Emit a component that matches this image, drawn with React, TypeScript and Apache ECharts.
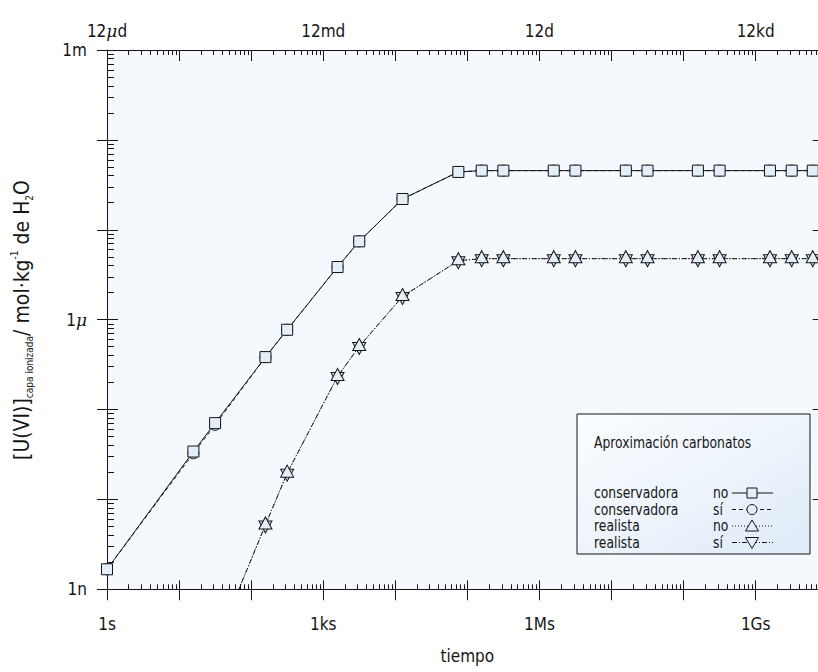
import React, { useEffect, useRef } from 'react';
import * as echarts from 'echarts';

const FONT = "'Liberation Sans Narrow', 'DejaVu Sans Condensed', 'Roboto Condensed', sans-serif";

// tiempo (s)
const timeConservadora = [1, 15.8, 31.6, 158, 316, 1580, 3160, 12600, 75000, 158000, 316000, 1.58e6, 3.16e6, 1.58e7, 3.16e7, 1.58e8, 3.16e8, 1.58e9, 3.16e9, 6.2e9];
const conservadoraNo = [1.67e-9, 3.41e-8, 7.06e-8, 3.83e-7, 7.72e-7, 3.85e-6, 7.43e-6, 2.2e-5, 4.4e-5, 4.55e-5, 4.55e-5, 4.55e-5, 4.55e-5, 4.55e-5, 4.55e-5, 4.55e-5, 4.55e-5, 4.55e-5, 4.55e-5, 4.55e-5];
const conservadoraSi = [1.67e-9, 3.26e-8, 6.75e-8, 3.83e-7, 7.72e-7, 3.85e-6, 7.43e-6, 2.2e-5, 4.4e-5, 4.55e-5, 4.55e-5, 4.55e-5, 4.55e-5, 4.55e-5, 4.55e-5, 4.55e-5, 4.55e-5, 4.55e-5, 4.55e-5, 4.55e-5];

const timeRealista = [31.6, 158, 316, 1580, 3160, 12600, 75000, 158000, 316000, 1.58e6, 3.16e6, 1.58e7, 3.16e7, 1.58e8, 3.16e8, 1.58e9, 3.16e9, 6.2e9];
const realistaNo = [2.3e-10, 5.2e-9, 1.96e-8, 2.33e-7, 5.03e-7, 1.81e-6, 4.53e-6, 4.77e-6, 4.77e-6, 4.77e-6, 4.77e-6, 4.77e-6, 4.77e-6, 4.77e-6, 4.77e-6, 4.77e-6, 4.77e-6, 4.77e-6];
const realistaSi = [2.3e-10, 5.2e-9, 1.96e-8, 2.33e-7, 5.03e-7, 1.81e-6, 4.53e-6, 4.77e-6, 4.77e-6, 4.77e-6, 4.77e-6, 4.77e-6, 4.77e-6, 4.77e-6, 4.77e-6, 4.77e-6, 4.77e-6, 4.77e-6];

const xTickLabels = ['1s', '1ks', '1Ms', '1Gs'];
const xTopTickLabels = ['12μd', '12md', '12d', '12kd'];
const yTickLabels = ['1n', '1μ', '1m'];
const xName = 'tiempo';
const legendTitle = 'Aproximación carbonatos';
const legendNames = ['conservadora', 'conservadora', 'realista', 'realista'];
const legendFlags = ['no', 'sí', 'no', 'sí'];

const X_MIN = 1;
const X_MAX = 9.99e9;
const Y_MIN = 1e-9;
const Y_MAX = 1e-3;

const INK = '#151515';
const MARK_FILL = '#e3eef9';
const DASH_CONS_SI = [4, 3];
const DASH_REAL_NO = [1, 2];
const DASH_REAL_SI = [5, 2, 1, 2];

const muWrap = (s: string) => s.replace('μ', '{mu|μ}');
const decadeLabel = (v: number, labels: string[], offset: number) => {
  const e = Math.round(Math.log10(v));
  if (Math.abs(v / Math.pow(10, e) - 1) > 1e-6) return '';
  const k = e + offset;
  if (k % 3 !== 0) return '';
  const s = labels[k / 3];
  return s ? muWrap(s) : '';
};

const labelRich = {
  mu: { fontStyle: 'italic', fontFamily: "'DejaVu Serif', serif", fontSize: 17, color: INK },
};

const zip = (a: number[], b: number[]) => a.map((t, i) => [t, b[i]]);

export default function App() {
  const ref = useRef<HTMLDivElement>(null);
  useEffect(() => {
    const chart = echarts.init(ref.current!, null, { renderer: 'svg' });
    const baseX = {
      type: 'log' as const,
      logBase: 10,
      min: X_MIN,
      max: X_MAX,
      splitLine: { show: false },
    };
    const baseY = {
      type: 'log' as const,
      logBase: 10,
      min: Y_MIN,
      max: Y_MAX,
      splitLine: { show: false },
    };
    const lineSeries = (name: string, t: number[], v: number[], symbol: string, extra: any, dash: any) => ({
      name,
      type: 'line',
      xAxisIndex: 0,
      yAxisIndex: 0,
      data: zip(t, v),
      symbol,
      showAllSymbol: true,
      lineStyle: { color: INK, width: 1, type: dash },
      itemStyle: { color: MARK_FILL, borderColor: INK, borderWidth: 1 },
      emphasis: { disabled: true },
      clip: true,
      ...extra,
    });

    const legendX = 577;
    const legendY = 414;
    const legendW = 233;
    const legendH = 140;
    const rowY = (i: number) => legendY + 79 + i * 16.5;
    const sampleX0 = 732;
    const sampleX1 = 773;
    const sampleXc = 752;
    const dashes = [null, DASH_CONS_SI, DASH_REAL_NO, DASH_REAL_SI];
    const SX = 0.86;

    const legendEls: any[] = [
      {
        type: 'rect',
        shape: { x: legendX, y: legendY, width: legendW, height: legendH },
        style: {
          fill: new echarts.graphic.LinearGradient(0, 0, 1, 1, [
            { offset: 0, color: '#fbfdff' },
            { offset: 1, color: '#dfebf8' },
          ]),
          stroke: INK,
          lineWidth: 1,
        },
        z: 100,
      },
      {
        type: 'text',
        x: legendX + 17,
        y: legendY + 29,
        scaleX: SX,
        style: { text: legendTitle, fontSize: 16, fontFamily: FONT, fill: INK, verticalAlign: 'middle' },
        z: 101,
      },
    ];
    legendNames.forEach((n, i) => {
      const y = rowY(i);
      legendEls.push({
        type: 'text', x: legendX + 17, y, scaleX: SX,
        style: { text: n, fontSize: 16, fontFamily: FONT, fill: INK, verticalAlign: 'middle' }, z: 101,
      });
      legendEls.push({
        type: 'text', x: 713, y, scaleX: SX,
        style: { text: legendFlags[i], fontSize: 16, fontFamily: FONT, fill: INK, verticalAlign: 'middle' }, z: 101,
      });
      legendEls.push({
        type: 'line', shape: { x1: sampleX0, y1: y, x2: sampleX1, y2: y },
        style: { stroke: INK, lineWidth: 1, lineDash: dashes[i] || undefined }, z: 101,
      });
      const ms = { fill: MARK_FILL, stroke: INK, lineWidth: 1 };
      if (i === 0) legendEls.push({ type: 'rect', shape: { x: sampleXc - 5, y: y - 5, width: 10, height: 10 }, style: ms, z: 102 });
      if (i === 1) legendEls.push({ type: 'circle', shape: { cx: sampleXc, cy: y, r: 5 }, style: ms, z: 102 });
      if (i === 2) legendEls.push({ type: 'polygon', shape: { points: [[sampleXc, y - 6], [sampleXc + 6.5, y + 5], [sampleXc - 6.5, y + 5]] }, style: ms, z: 102 });
      if (i === 3) legendEls.push({ type: 'polygon', shape: { points: [[sampleXc, y + 6], [sampleXc + 6.5, y - 5], [sampleXc - 6.5, y - 5]] }, style: ms, z: 102 });
    });

    const option: any = {
      animation: false,
      backgroundColor: '#ffffff',
      grid: {
        left: 107,
        top: 50,
        width: 720.7,
        height: 539.3,
        show: true,
        backgroundColor: '#f5f9fd',
        borderWidth: 0,
      },
      xAxis: [
        {
          ...baseX,
          position: 'bottom',
          name: xName,
          nameLocation: 'middle',
          nameGap: 58,
          nameTextStyle: { fontSize: 17, fontFamily: FONT, color: INK },
          axisLine: { show: true, lineStyle: { color: INK, width: 1 } },
          axisTick: { show: true, inside: false, length: 11, lineStyle: { color: INK, width: 1 } },
          minorTick: { show: false },
          axisLabel: {
            show: true, interval: 0, margin: 26, fontSize: 17, fontFamily: FONT, color: INK,
            formatter: (v: number) => decadeLabel(v, xTickLabels, 0), rich: labelRich,
          },
        },
        {
          ...baseX,
          position: 'bottom',
          axisLine: { show: false },
          axisTick: { show: true, inside: true, length: 9, lineStyle: { color: INK, width: 1 } },
          minorTick: { show: true, splitNumber: 9, length: 5, lineStyle: { color: INK, width: 1 } },
          axisLabel: { show: false },
        },
        {
          ...baseX,
          position: 'top',
          axisLine: { show: true, lineStyle: { color: INK, width: 1 } },
          axisTick: { show: true, inside: true, length: 11, lineStyle: { color: INK, width: 1 } },
          minorTick: { show: true, splitNumber: 9, length: 5, lineStyle: { color: INK, width: 1 } },
          axisLabel: {
            show: true, interval: 0, margin: 11, fontSize: 17, fontFamily: FONT, color: INK,
            formatter: (v: number) => decadeLabel(v, xTopTickLabels, 0), rich: labelRich,
          },
        },
      ],
      yAxis: [
        {
          ...baseY,
          position: 'left',
          axisLine: { show: true, lineStyle: { color: INK, width: 1 } },
          axisTick: { show: true, inside: false, length: 10, lineStyle: { color: INK, width: 1 } },
          minorTick: { show: false },
          axisLabel: {
            show: true, interval: 0, margin: 20, fontSize: 17, fontFamily: FONT, color: INK,
            formatter: (v: number) => decadeLabel(v, yTickLabels, 9), rich: labelRich,
          },
        },
        {
          ...baseY,
          position: 'left',
          axisLine: { show: false },
          axisTick: { show: true, inside: true, length: 11, lineStyle: { color: INK, width: 1 } },
          minorTick: { show: true, splitNumber: 9, length: 7, lineStyle: { color: INK, width: 1 } },
          axisLabel: { show: false },
        },
        {
          ...baseY,
          position: 'right',
          axisLine: { show: true, lineStyle: { color: INK, width: 1 } },
          axisTick: { show: true, inside: true, length: 15, lineStyle: { color: INK, width: 1 } },
          minorTick: { show: true, splitNumber: 9, length: 7, lineStyle: { color: INK, width: 1 } },
          axisLabel: { show: false },
        },
      ],
      series: [
        lineSeries('realista sí', timeRealista, realistaSi, 'triangle', { symbolRotate: 180, symbolSize: [13, 12], symbolOffset: [0, 2], z: 2 }, DASH_REAL_SI),
        lineSeries('realista no', timeRealista, realistaNo, 'triangle', { symbolSize: [13, 12], symbolOffset: [0, -2], z: 3 }, DASH_REAL_NO),
        lineSeries('conservadora sí', timeConservadora, conservadoraSi, 'circle', { symbolSize: 11, z: 4 }, DASH_CONS_SI),
        lineSeries('conservadora no', timeConservadora, conservadoraNo, 'rect', { symbolSize: 11, z: 5 }, 'solid'),
      ],
      graphic: [
        {
          type: 'text',
          x: 22,
          y: 320,
          rotation: Math.PI / 2,
          style: {
            text: '[U(VI)]{sub|capa ionizada}/ mol·kg{sup|-1} de H{sub|2}O',
            fontSize: 21,
            fontFamily: FONT,
            fill: INK,
            align: 'center',
            verticalAlign: 'middle',
            lineHeight: 25,
            rich: {
              sub: { fontSize: 10, fontFamily: FONT, fill: INK, verticalAlign: 'bottom', lineHeight: 10 },
              sup: { fontSize: 10, fontFamily: FONT, fill: INK, verticalAlign: 'top', lineHeight: 10 },
            },
          },
          z: 100,
        },
        ...legendEls,
      ],
    };
    chart.setOption(option);
    return () => chart.dispose();
  }, []);
  return <div ref={ref} style={{ position: 'fixed', left: 0, top: 0, width: 840, height: 672 }} />;
}
